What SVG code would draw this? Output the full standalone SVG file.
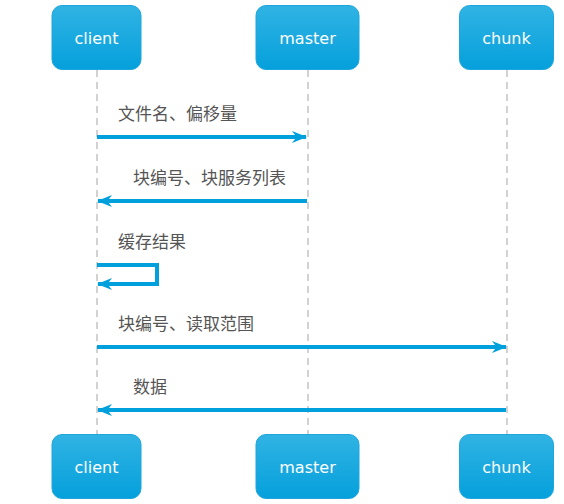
<svg xmlns="http://www.w3.org/2000/svg" width="564" height="504" viewBox="0 0 564 504">
<style>
.box{fill:url(#g);stroke:#1ea6dc;stroke-width:1}
.bt{font-family:"DejaVu Sans","Noto Sans CJK SC",sans-serif;font-size:16px;fill:#fff;text-anchor:middle}
.life{stroke:#bbb;stroke-width:1.3;stroke-dasharray:7,5;fill:none}
.msg{stroke:#00a0dc;stroke-width:4;fill:none;marker-end:url(#ah)}
.lbl{font-family:"Noto Sans CJK SC","Liberation Sans",sans-serif;font-size:17px;fill:#555}
</style>
<defs>
<linearGradient id="g" x1="0" y1="0" x2="0" y2="1">
<stop offset="0" stop-color="#30b3e3"/>
<stop offset="1" stop-color="#05a0dc"/>
</linearGradient>
<marker id="ah" markerWidth="15" markerHeight="13" refX="14" refY="6.5" orient="auto" markerUnits="userSpaceOnUse" viewBox="0 0 15 13">
<path d="M0,0.5 L15,6.5 L0,12.5 L4.5,6.5 Z" fill="#00a0dc"/>
</marker>
</defs>
<g id="lifelines">
<line class="life" x1="97" y1="70" x2="97" y2="434"/>
<line class="life" x1="308" y1="70" x2="308" y2="434"/>
<line class="life" x1="507" y1="70" x2="507" y2="434"/>
</g>
<g id="client-top"><rect class="box" x="52" y="5.5" width="89" height="64" rx="10"/><text class="bt" x="96.5" y="44">client</text></g>
<g id="master-top"><rect class="box" x="256" y="5.5" width="103" height="64" rx="10"/><text class="bt" x="307.5" y="44">master</text></g>
<g id="chunk-top"><rect class="box" x="459.5" y="5.5" width="94" height="64" rx="10"/><text class="bt" x="506.5" y="44">chunk</text></g>
<g id="client-bottom"><rect class="box" x="52" y="434.5" width="89" height="64" rx="10"/><text class="bt" x="96.5" y="473">client</text></g>
<g id="master-bottom"><rect class="box" x="256" y="434.5" width="103" height="64" rx="10"/><text class="bt" x="307.5" y="473">master</text></g>
<g id="chunk-bottom"><rect class="box" x="459.5" y="434.5" width="94" height="64" rx="10"/><text class="bt" x="506.5" y="473">chunk</text></g>
<g id="connectors">
<path class="msg" d="M97,137 H306"/>
<path class="msg" d="M307,201 H98"/>
<path class="msg" d="M97,265 H157 V284 H98"/>
<path class="msg" d="M97,347 H506"/>
<path class="msg" d="M506,410 H98"/>
</g>
<g id="labels">
<text class="lbl" x="118" y="120">文件名、偏移量</text>
<text class="lbl" x="133" y="184">块编号、块服务列表</text>
<text class="lbl" x="118" y="248">缓存结果</text>
<text class="lbl" x="118" y="330">块编号、读取范围</text>
<text class="lbl" x="133" y="393">数据</text>
</g>
</svg>
